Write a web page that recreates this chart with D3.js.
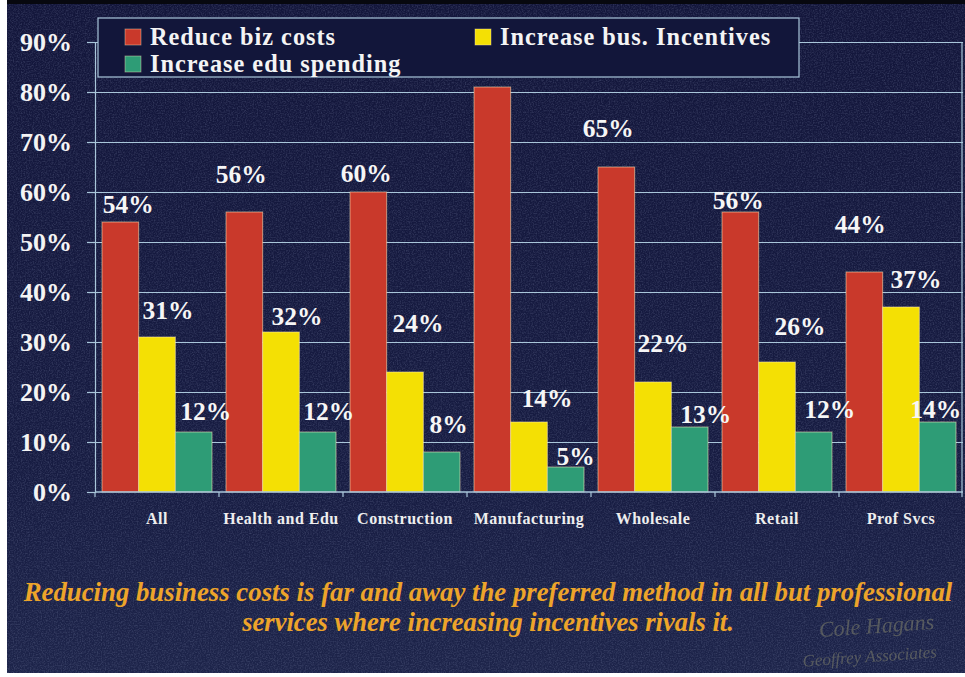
<!DOCTYPE html>
<html>
<head>
<meta charset="utf-8">
<script src="https://cdn.jsdelivr.net/npm/d3@7"></script>
<style>
  html, body { margin: 0; padding: 0; background: #ffffff; }
  svg { display: block; }
  svg text { font-family: "Liberation Serif", "Tinos", "Times New Roman", "DejaVu Serif", serif; }
</style>
</head>
<body>
<svg id="chart" width="965" height="677"></svg>
<script>
// Survey: preferred economic-development methods, by industry
const categories = ["All", "Health and Edu", "Construction", "Manufacturing", "Wholesale", "Retail", "Prof Svcs"];
const seriesNames = ["Reduce biz costs", "Increase bus. Incentives", "Increase edu spending"];
const reduceBizCosts = [54, 56, 60, 81, 65, 56, 44];
const increaseBusIncentives = [31, 32, 24, 14, 22, 26, 37];
const increaseEduSpending = [12, 12, 8, 5, 13, 12, 14];
const yTickValues = [0, 10, 20, 30, 40, 50, 60, 70, 80, 90];
const captionLines = [
  "Reducing business costs is far and away the preferred method in all but professional",
  "services where increasing incentives rivals it."
];

// Hand-placed value-label nudges [dx, dy] in px, one per bar
const labelNudge = [
  [[8, -9], [-3, -29], [-2, -10], [3, -15], [-8, -30], [-2, -3], [-4, -39]],
  [[11, -18], [16, -7], [13, -40], [18, -15], [10, -30], [23, -27], [15, -19]],
  [[12, -12], [11, -12], [7, -19], [10, -2], [16, -4], [16, -14], [-2, -4]]
];

const seriesValues = [reduceBizCosts, increaseBusIncentives, increaseEduSpending];
const seriesColors = ["#c9392b", "#f4e004", "#2e9c76"];

const W = 965, H = 677;
const plot = { left: 95, right: 963, top: 42, bottom: 492 };
const serif = '"Liberation Serif", "Tinos", "Times New Roman", "DejaVu Serif", serif';
const lineColor = "#a9c6da";

const svg = d3.select("#chart");
const defs = svg.append("defs");

// Background: deep navy with a soft lighter zone toward the bottom
const bg = defs.append("linearGradient").attr("id", "bgGrad")
  .attr("x1", 0).attr("y1", 0).attr("x2", 0).attr("y2", 1);
bg.append("stop").attr("offset", "0%").attr("stop-color", "#13163b");
bg.append("stop").attr("offset", "70%").attr("stop-color", "#171c42");
bg.append("stop").attr("offset", "100%").attr("stop-color", "#1d244a");

const grain = defs.append("filter").attr("id", "grain")
  .attr("x", 0).attr("y", 0).attr("width", "100%").attr("height", "100%");
grain.append("feTurbulence").attr("type", "fractalNoise")
  .attr("baseFrequency", 0.75).attr("numOctaves", 2).attr("seed", 7).attr("result", "n");
grain.append("feColorMatrix").attr("in", "n").attr("type", "matrix")
  .attr("values", "0 0 0 0 0.35  0 0 0 0 0.4  0 0 0 0 0.6  0 0 0 0.9 -0.35");

svg.append("rect").attr("width", W).attr("height", H).attr("fill", "#ffffff");
svg.append("rect").attr("x", 7).attr("y", 0).attr("width", W - 7).attr("height", 673)
  .attr("fill", "url(#bgGrad)");
svg.append("rect").attr("x", 7).attr("y", 0).attr("width", W - 7).attr("height", 673)
  .attr("filter", "url(#grain)").attr("opacity", 0.5);
svg.append("rect").attr("x", 7).attr("y", 0).attr("width", W - 7).attr("height", 4)
  .attr("fill", "#07080f");

// Scales
const x = d3.scaleBand().domain(categories).range([plot.left, plot.right]).padding(0);
const xs = d3.scaleBand().domain(seriesNames).range([7, 117]).padding(0);
const y = d3.scaleLinear().domain([0, 90]).range([plot.bottom, plot.top]);

// Gridlines
svg.append("g")
  .attr("transform", `translate(${plot.left},0)`)
  .call(d3.axisLeft(y).tickValues(yTickValues.filter(v => v > 0))
    .tickSize(-(plot.right - plot.left)).tickFormat(""))
  .call(g => g.select(".domain").remove())
  .call(g => g.selectAll("line").attr("stroke", lineColor).attr("stroke-width", 1.2));

// Right frame edge
svg.append("line")
  .attr("x1", plot.right - 1).attr("x2", plot.right - 1)
  .attr("y1", y(90)).attr("y2", y(0))
  .attr("stroke", lineColor).attr("stroke-width", 1.2);

// Bars
const groups = svg.append("g").selectAll("g")
  .data(seriesNames)
  .join("g")
  .attr("fill", (d, i) => seriesColors[i]);

groups.selectAll("rect")
  .data((s, si) => categories.map((c, ci) => ({ c, s, si, ci, v: seriesValues[si][ci] })))
  .join("rect")
  .attr("x", d => x(d.c) + xs(d.s))
  .attr("width", xs.bandwidth())
  .attr("y", d => y(d.v))
  .attr("height", d => y(0) - y(d.v))
  .attr("stroke", "rgba(255,236,190,0.55)")
  .attr("stroke-width", 1);

// Y axis with percent labels
svg.append("g")
  .attr("transform", `translate(${plot.left},0)`)
  .call(d3.axisLeft(y).tickValues(yTickValues).tickSize(8).tickPadding(15)
    .tickFormat(d => d + "%"))
  .call(g => g.attr("font-family", null).attr("font-size", null))
  .call(g => g.select(".domain").attr("stroke", lineColor).attr("stroke-width", 1.2))
  .call(g => g.selectAll("line").attr("stroke", lineColor).attr("stroke-width", 1.2))
  .call(g => g.selectAll("text")
    .attr("fill", "#f4f4f4")
    .style("font-family", serif)
    .style("font-weight", "bold")
    .style("font-size", "26px"));

// X axis: baseline, boundary ticks and category names
svg.append("line")
  .attr("x1", plot.left).attr("x2", plot.right)
  .attr("y1", y(0)).attr("y2", y(0))
  .attr("stroke", lineColor).attr("stroke-width", 1.5);

svg.append("g").selectAll("line")
  .data(categories.concat(["__end"]))
  .join("line")
  .attr("x1", d => d === "__end" ? plot.right - 1 : x(d))
  .attr("x2", d => d === "__end" ? plot.right - 1 : x(d))
  .attr("y1", y(0)).attr("y2", y(0) + 5)
  .attr("stroke", lineColor).attr("stroke-width", 1.2);

svg.append("g")
  .attr("transform", `translate(0,${plot.bottom})`)
  .call(d3.axisBottom(x).tickSize(0).tickPadding(21))
  .call(g => g.attr("font-family", null).attr("font-size", null))
  .call(g => g.select(".domain").remove())
  .call(g => g.selectAll("text")
    .attr("fill", "#eeeeee")
    .style("font-family", serif)
    .style("font-weight", "bold")
    .style("font-size", "16px")
    .style("letter-spacing", "0.5px"));

// Value labels
svg.append("g").selectAll("text")
  .data(seriesNames.flatMap((s, si) => categories.map((c, ci) => ({ c, s, si, ci, v: seriesValues[si][ci] }))))
  .join("text")
  .attr("x", d => x(d.c) + xs(d.s) + xs.bandwidth() / 2 + labelNudge[d.si][d.ci][0])
  .attr("y", d => y(d.v) + labelNudge[d.si][d.ci][1])
  .attr("text-anchor", "middle")
  .attr("fill", "#f6f6f6")
  .style("font-family", serif)
  .style("font-weight", "bold")
  .style("font-size", "25.5px")
  .text(d => d.v + "%");

// Legend
const legend = svg.append("g");
legend.append("rect")
  .attr("x", 98).attr("y", 18).attr("width", 701).attr("height", 59)
  .attr("fill", "#12163a").attr("stroke", lineColor).attr("stroke-width", 1.2);

const legendSpots = [
  { x: 125, y: 29 },
  { x: 475, y: 29 },
  { x: 125, y: 56 }
];
const legendItems = legend.selectAll("g.item")
  .data(seriesNames)
  .join("g")
  .attr("class", "item")
  .attr("transform", (d, i) => `translate(${legendSpots[i].x},${legendSpots[i].y})`);
legendItems.append("rect")
  .attr("width", 16).attr("height", 16)
  .attr("fill", (d, i) => seriesColors[i])
  .attr("stroke", "rgba(255,236,190,0.5)").attr("stroke-width", 0.8);
legendItems.append("text")
  .attr("x", 25).attr("y", 15.5)
  .attr("fill", "#f4f4f4")
  .style("font-family", serif)
  .style("font-weight", "bold")
  .style("font-size", "24.3px")
  .style("letter-spacing", "1px")
  .text(d => d);

// Caption, each line squeezed horizontally to its set width
const captionWidths = [929, 492];
svg.append("g").selectAll("text")
  .data(captionLines)
  .join("text")
  .attr("x", 0)
  .attr("y", 0)
  .attr("text-anchor", "middle")
  .attr("fill", "#eda42a")
  .style("font-family", serif)
  .style("font-weight", "bold")
  .style("font-style", "italic")
  .style("font-size", "27px")
  .text(d => d)
  .each(function (d, i) {
    const natural = this.getComputedTextLength();
    const sx = captionWidths[i] / natural;
    d3.select(this).attr("transform", `translate(488,${601 + i * 30}) scale(${sx},1)`);
  });

// Faint signature block
const sig = svg.append("g")
  .attr("fill", "#8a8a6e")
  .attr("opacity", 0.5);
sig.append("text").attr("x", 877).attr("y", 633).attr("text-anchor", "middle")
  .style("font-family", serif).style("font-style", "italic").style("font-size", "22px")
  .attr("transform", "rotate(-4 877 633)").text("Cole Hagans");
sig.append("text").attr("x", 870).attr("y", 662).attr("text-anchor", "middle")
  .style("font-family", serif).style("font-style", "italic").style("font-size", "17px")
  .attr("transform", "rotate(-4 870 662)").text("Geoffrey Associates");
</script>
</body>
</html>
